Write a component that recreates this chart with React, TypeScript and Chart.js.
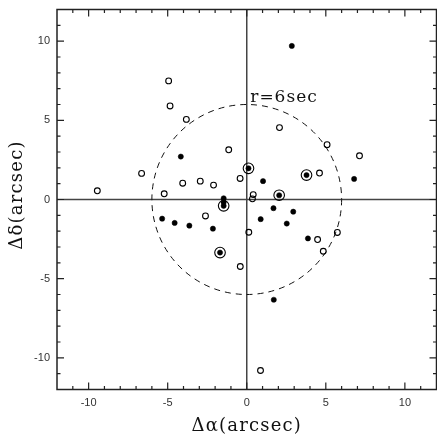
import React, { useEffect, useRef } from 'react';
import { Chart, registerables } from 'chart.js';

Chart.register(...registerables);

// Open circles (x = Δα, y = Δδ in arcsec)
const openX = [-4.94, -4.85, -3.82, -6.65, -9.45, -4.05, -2.94, -2.10, -5.22, -1.14, -0.42, 2.07, 5.08, 7.13, 4.60, 0.41, 0.36, -2.61, 0.13, 4.48, 5.73, 4.84, -0.41, 0.87];
const openY = [7.49, 5.91, 5.06, 1.65, 0.55, 1.03, 1.16, 0.91, 0.36, 3.14, 1.33, 4.54, 3.46, 2.76, 1.67, 0.31, 0.04, -1.04, -2.07, -2.53, -2.08, -3.27, -4.23, -10.8];

// Filled dots
const filledX = [2.85, -4.17, 1.03, 6.79, -1.46, -1.46, 1.69, 2.94, 0.88, 2.53, -5.35, -4.56, -3.63, -2.14, 3.87, 1.71];
const filledY = [9.70, 2.71, 1.16, 1.30, 0.08, -0.17, -0.55, -0.77, -1.24, -1.52, -1.21, -1.48, -1.65, -1.84, -2.46, -6.33];

// Filled dots surrounded by a ring
const ringX = [0.11, 3.78, 2.05, -1.46, -1.69];
const ringY = [1.97, 1.54, 0.27, -0.40, -3.35];

const circleRadius = 6;
const circleLabel = 'r=6sec';
const tickValues = [-12, -11, -10, -9, -8, -7, -6, -5, -4, -3, -2, -1, 0, 1, 2, 3, 4, 5, 6, 7, 8, 9, 10, 11, 12];
const xTitle = 'Δα(arcsec)';
const yTitle = 'Δδ(arcsec)';

const toPts = (xs: number[], ys: number[]) => xs.map((x, i) => ({ x, y: ys[i] }));

const decor = {
  id: 'decor',
  beforeDatasetsDraw(chart: any) {
    const { ctx, chartArea: a, scales } = chart;
    const x = scales.x, y = scales.y;
    const x0 = x.getPixelForValue(0);
    const y0 = y.getPixelForValue(0);
    ctx.save();
    ctx.strokeStyle = '#444';
    ctx.lineWidth = 1.5;
    ctx.beginPath();
    ctx.moveTo(x0, a.top); ctx.lineTo(x0, a.bottom);
    ctx.moveTo(a.left, y0); ctx.lineTo(a.right, y0);
    ctx.stroke();
    // dashed circle of radius 6 arcsec
    const rx = Math.abs(x.getPixelForValue(circleRadius) - x0);
    const ry = Math.abs(y.getPixelForValue(circleRadius) - y0);
    ctx.setLineDash([6, 5]);
    ctx.lineWidth = 1;
    ctx.strokeStyle = '#111';
    ctx.beginPath();
    ctx.ellipse(x0, y0, rx, ry, 0, 0, Math.PI * 2);
    ctx.stroke();
    ctx.setLineDash([]);
    // label
    ctx.fillStyle = '#111';
    ctx.font = '17px "DejaVu Serif"';
    (ctx as any).letterSpacing = '1px';
    ctx.textAlign = 'left';
    ctx.textBaseline = 'alphabetic';
    ctx.fillText(circleLabel, x0 + 3.5, y.getPixelForValue(circleRadius) - 2.5);
    ctx.restore();
  },
  afterDatasetsDraw(chart: any) {
    const { ctx, chartArea: a, scales } = chart;
    const x = scales.x, y = scales.y;
    ctx.save();
    ctx.strokeStyle = '#222';
    ctx.lineWidth = 1.2;
    ctx.beginPath();
    for (const v of tickValues) {
      const len = v % 5 === 0 ? 7 : 3.5;
      const px = x.getPixelForValue(v);
      if (px > a.left + 1 && px < a.right - 1) {
        ctx.moveTo(px, a.bottom); ctx.lineTo(px, a.bottom - len);
        ctx.moveTo(px, a.top); ctx.lineTo(px, a.top + len);
      }
      const py = y.getPixelForValue(v);
      if (py > a.top + 1 && py < a.bottom - 1) {
        ctx.moveTo(a.left, py); ctx.lineTo(a.left + len, py);
        ctx.moveTo(a.right, py); ctx.lineTo(a.right - len, py);
      }
    }
    ctx.stroke();
    ctx.lineWidth = 1.5;
    ctx.strokeRect(a.left, a.top, a.right - a.left, a.bottom - a.top);
    // axis titles
    ctx.fillStyle = '#111';
    ctx.font = '18px "DejaVu Serif"';
    (ctx as any).letterSpacing = '1.2px';
    ctx.textAlign = 'center';
    ctx.textBaseline = 'middle';
    ctx.fillText(xTitle, (a.left + a.right) / 2, 426);
    ctx.translate(17, 195);
    ctx.rotate(-Math.PI / 2);
    ctx.fillText(yTitle, 0, 0);
    ctx.restore();
  },
};

const zeroPad = (s: any) => {
  s.paddingLeft = 0;
  s.paddingRight = 0;
  s.paddingTop = 0;
  s.paddingBottom = 0;
};

export default function App() {
  const ref = useRef<HTMLCanvasElement | null>(null);
  useEffect(() => {
    if (!ref.current) return;
    const tickCfg = {
      autoSkip: false,
      maxRotation: 0,
      minRotation: 0,
      color: '#333',
      font: { family: '"Liberation Sans", Arial, sans-serif', size: 11 },
      callback: (v: any) => (Number(v) % 5 === 0 ? String(v) : ''),
    };
    const chart = new Chart(ref.current, {
      type: 'scatter',
      data: {
        datasets: [
          {
            label: 'open',
            data: toPts(openX, openY),
            pointRadius: 2.9,
            pointBorderWidth: 1.1,
            pointBorderColor: '#000',
            pointBackgroundColor: 'rgba(0,0,0,0)',
          },
          {
            label: 'filled',
            data: toPts(filledX.concat(ringX), filledY.concat(ringY)),
            pointRadius: 2.6,
            pointBorderWidth: 0.5,
            pointBorderColor: '#000',
            pointBackgroundColor: '#000',
          },
          {
            label: 'ring',
            data: toPts(ringX, ringY),
            pointRadius: 5.3,
            pointBorderWidth: 1.1,
            pointBorderColor: '#000',
            pointBackgroundColor: 'rgba(0,0,0,0)',
          },
        ],
      },
      options: {
        animation: false,
        responsive: false,
        devicePixelRatio: 1,
        layout: { autoPadding: false, padding: { top: 9.5, right: 0.5, left: 0, bottom: 0 } },
        plugins: { legend: { display: false }, tooltip: { enabled: false } },
        events: [],
        scales: {
          x: {
            type: 'linear',
            min: -12,
            max: 12,
            grid: { display: false, drawTicks: false },
            border: { display: false },
            ticks: { ...tickCfg, padding: 7 },
            afterBuildTicks: (s: any) => { s.ticks = tickValues.map((v) => ({ value: v })); },
            afterFit: (s: any) => { s.height = 46.5; zeroPad(s); },
          },
          y: {
            type: 'linear',
            min: -12,
            max: 12,
            grid: { display: false, drawTicks: false },
            border: { display: false },
            ticks: { ...tickCfg, padding: 7 },
            afterBuildTicks: (s: any) => { s.ticks = tickValues.map((v) => ({ value: v })); },
            afterFit: (s: any) => { s.width = 57; zeroPad(s); },
          },
        },
      },
      plugins: [decor],
    } as any);
    return () => chart.destroy();
  }, []);
  return (
    <div style={{ position: 'absolute', left: 0, top: 0, width: 437, height: 436, background: '#fff' }}>
      <canvas ref={ref} width={437} height={436} style={{ display: 'block' }} />
    </div>
  );
}
